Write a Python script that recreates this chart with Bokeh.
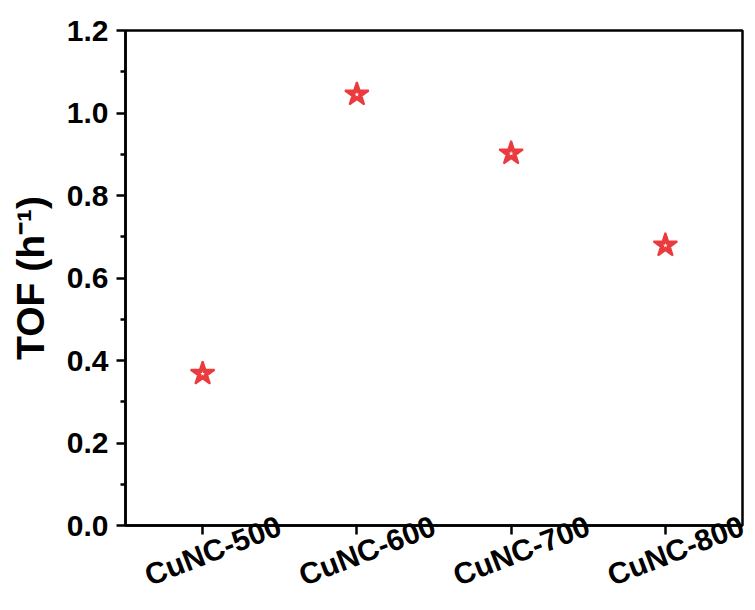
from bokeh.plotting import figure
from bokeh.models import FixedTicker, Range1d, ColumnDataSource, NumeralTickFormatter, LinearAxis
from bokeh.embed import file_html
from bokeh.resources import INLINE

categories = ["CuNC-500", "CuNC-600", "CuNC-700", "CuNC-800"]
tof = [0.368, 1.045, 0.902, 0.679]
y_ticks = [0.0, 0.2, 0.4, 0.6, 0.8, 1.0, 1.2]
y_minor = [0.1, 0.3, 0.5, 0.7, 0.9, 1.1]

xpos = list(range(1, len(categories) + 1))
src = ColumnDataSource(dict(x=xpos, y=tof))

RED = "#ea3b3f"
font = "Liberation Sans"
LABEL_SHIFT = 0.5  # rotated labels are right-anchored; shift so they sit centred on ticks

p = figure(width=752, height=610, output_backend="svg", toolbar_location=None,
           x_range=Range1d(0.5, 4.5), y_range=Range1d(0, 1.2),
           min_border_left=125, min_border_right=10, min_border_top=30, min_border_bottom=85)
p.grid.visible = False
p.outline_line_color = "black"
p.outline_line_width = 2.5

p.scatter("x", "y", source=src, marker="star", size=25, line_color=RED,
          line_width=2, fill_color=RED)
p.scatter("x", "y", source=src, marker="star", size=5, line_color=None,
          fill_color="white")

# tick-only x axis
xa = p.xaxis[0]
xa.ticker = FixedTicker(ticks=xpos)
xa.major_label_text_color = None
xa.major_label_text_font_size = "1px"
xa.major_label_standoff = 0
xa.minor_tick_line_color = None

lab_ticks = [x + LABEL_SHIFT for x in xpos]
lab = LinearAxis(ticker=FixedTicker(ticks=lab_ticks))
lab.major_label_overrides = {t: c for t, c in zip(lab_ticks, categories)}
lab.major_label_orientation = 0.37
lab.axis_line_color = None
lab.major_tick_line_color = None
lab.minor_tick_line_color = None
lab.major_tick_out = 0
lab.major_tick_in = 0
lab.major_label_standoff = -10
lab.major_label_text_font = font
lab.major_label_text_font_style = "bold"
lab.major_label_text_font_size = "30px"
lab.major_label_text_color = "black"
p.add_layout(lab, "below")

ya = p.yaxis[0]
ya.ticker = FixedTicker(ticks=y_ticks, minor_ticks=y_minor)
ya.formatter = NumeralTickFormatter(format="0.0")

for ax in (xa, ya):
    ax.axis_line_width = 2.5
    ax.major_tick_line_width = 2.5
    ax.minor_tick_line_width = 2.5
    ax.major_tick_out = 9
    ax.major_tick_in = 0
    ax.minor_tick_out = 5
    ax.minor_tick_in = 0

ya.major_label_text_font = font
ya.major_label_text_font_style = "bold"
ya.major_label_text_font_size = "30px"
ya.major_label_text_color = "black"
ya.major_label_standoff = 8
ya.axis_label = "TOF (h\u207b\u00b9)"
ya.axis_label_text_font = font
ya.axis_label_text_font_style = "bold"
ya.axis_label_text_color = "black"
ya.axis_label_text_font_size = "39px"
ya.axis_label_standoff = 12

open("out.html", "w").write(file_html(p, INLINE))
